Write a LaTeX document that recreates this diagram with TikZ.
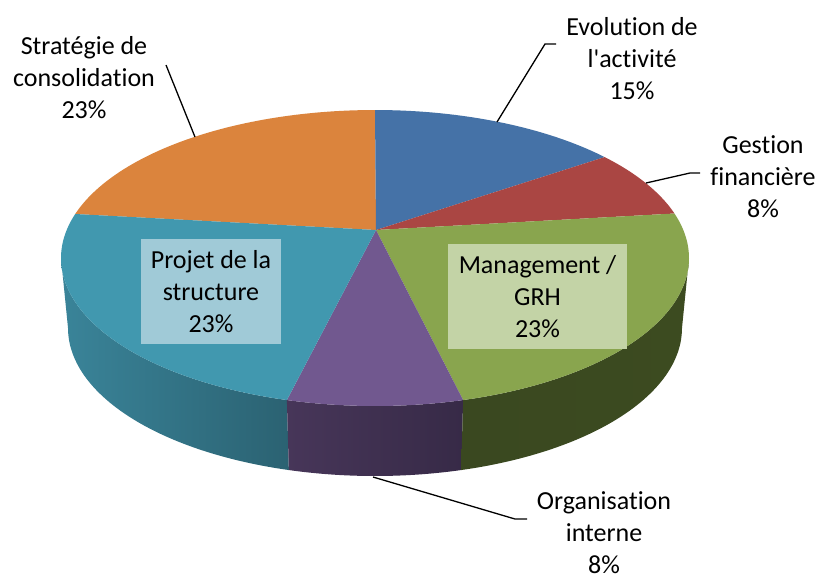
\documentclass[tikz,border=0pt]{standalone}
\usepackage{fontspec}
\setmainfont{Carlito}[Ligatures={NoCommon}]
\usetikzlibrary{calc}
\definecolor{cblue}{HTML}{4572A7}
\definecolor{cred}{HTML}{AA4643}
\definecolor{cgreen}{HTML}{89A54E}
\definecolor{cpurple}{HTML}{71588F}
\definecolor{cteal}{HTML}{4198AF}
\definecolor{corange}{HTML}{DB843D}
\definecolor{ctealA}{HTML}{3A8499}
\definecolor{ctealB}{HTML}{2B6272}
\definecolor{cpurA}{HTML}{473659}
\definecolor{cpurB}{HTML}{372A47}
\definecolor{cgrnA}{HTML}{3A4820}
\definecolor{cgrnB}{HTML}{3C4B20}
\definecolor{boxteal}{HTML}{A0CAD7}
\definecolor{boxgreen}{HTML}{C3D3A6}
\newcommand{\topx}[1]{{375+314*cos(#1)}}
\newcommand{\topy}[1]{{258-148*sin(#1)}}
\newcommand{\botx}[1]{{375+307*cos(#1)}}
\newcommand{\boty}[1]{{328-148*sin(#1)}}
\newcommand{\straightapos}{\XeTeXglyph\XeTeXcharglyph"0027\relax}
\tikzset{
  lbl/.style={align=center, font=\fontsize{26}{32}\selectfont, inner sep=0pt},
  inbox/.style={lbl, minimum height=105pt},
  leader/.style={draw=black, line width=1.3pt},
}
\begin{document}
\begin{tikzpicture}[x=1pt,y=-1pt]
\useasboundingbox (0,0) rectangle (819,574);
\fill[white] (0,0) rectangle (819,574);
% sides
\shade[left color=ctealA, right color=ctealB]
  plot[domain=180:253.7, samples=60] (\topx{\x},\topy{\x})
  -- plot[domain=253.7:180, samples=60] (\botx{\x},\boty{\x}) -- cycle;
\shade[left color=cpurA, right color=cpurB]
  plot[domain=253.7:286.3, samples=30] (\topx{\x},\topy{\x})
  -- plot[domain=286.3:253.7, samples=30] (\botx{\x},\boty{\x}) -- cycle;
\shade[left color=cgrnA, right color=cgrnB]
  plot[domain=286.3:360, samples=60] (\topx{\x},\topy{\x})
  -- plot[domain=360:286.3, samples=60] (\botx{\x},\boty{\x}) -- cycle;
% top faces
\coordinate (apex) at (376,230);
\fill[corange] (apex) -- plot[domain=162.7:90, samples=60] (\topx{\x},\topy{\x}) -- cycle;
\fill[cblue] (apex) -- plot[domain=90:43, samples=40] (\topx{\x},\topy{\x}) -- cycle;
\fill[cred] (apex) -- plot[domain=43:17.5, samples=30] (\topx{\x},\topy{\x}) -- cycle;
\fill[cgreen] (apex) -- plot[domain=17.5:-73.7, samples=80] (\topx{\x},\topy{\x}) -- cycle;
\fill[cpurple] (apex) -- plot[domain=-73.7:-106.3, samples=30] (\topx{\x},\topy{\x}) -- cycle;
\fill[cteal] (apex) -- plot[domain=-106.3:-197.3, samples=80] (\topx{\x},\topy{\x}) -- cycle;
% inner label boxes
\node[inbox, fill=boxteal, minimum width=140pt] (projet) at (211,291.5)
  {Projet de la\\structure\\23\%};
\node[inbox, fill=boxgreen, minimum width=179pt] (manag) at (537.5,296.5)
  {Management /\\GRH\\23\%};
% outer labels
\node[lbl] (strat) at (84,78) {Stratégie de\\consolidation\\23\%};
\node[lbl] (evol) at (632,59) {Evolution de\\l\straightapos activité\\15\%};
\node[lbl] (gest) at (763,177) {Gestion\\financière\\8\%};
\node[lbl] (orga) at (604,533) {Organisation\\interne\\8\%};
% leader lines
\coordinate (s1) at (166,65);
\coordinate (s2) at (195,137);
\coordinate (e1) at (556,44);
\coordinate (e2) at (545,44);
\coordinate (e3) at (497,122);
\coordinate (g1) at (700,173);
\coordinate (g2) at (690,173);
\coordinate (g3) at (646,183);
\coordinate (o1) at (527,519);
\coordinate (o2) at (515,519);
\coordinate (o3) at (373,477);
\draw[leader] (s1) -- (s2);
\draw[leader] (e1) -- (e2) -- (e3);
\draw[leader] (g1) -- (g2) -- (g3);
\draw[leader] (o1) -- (o2) -- (o3);
\end{tikzpicture}
\end{document}
